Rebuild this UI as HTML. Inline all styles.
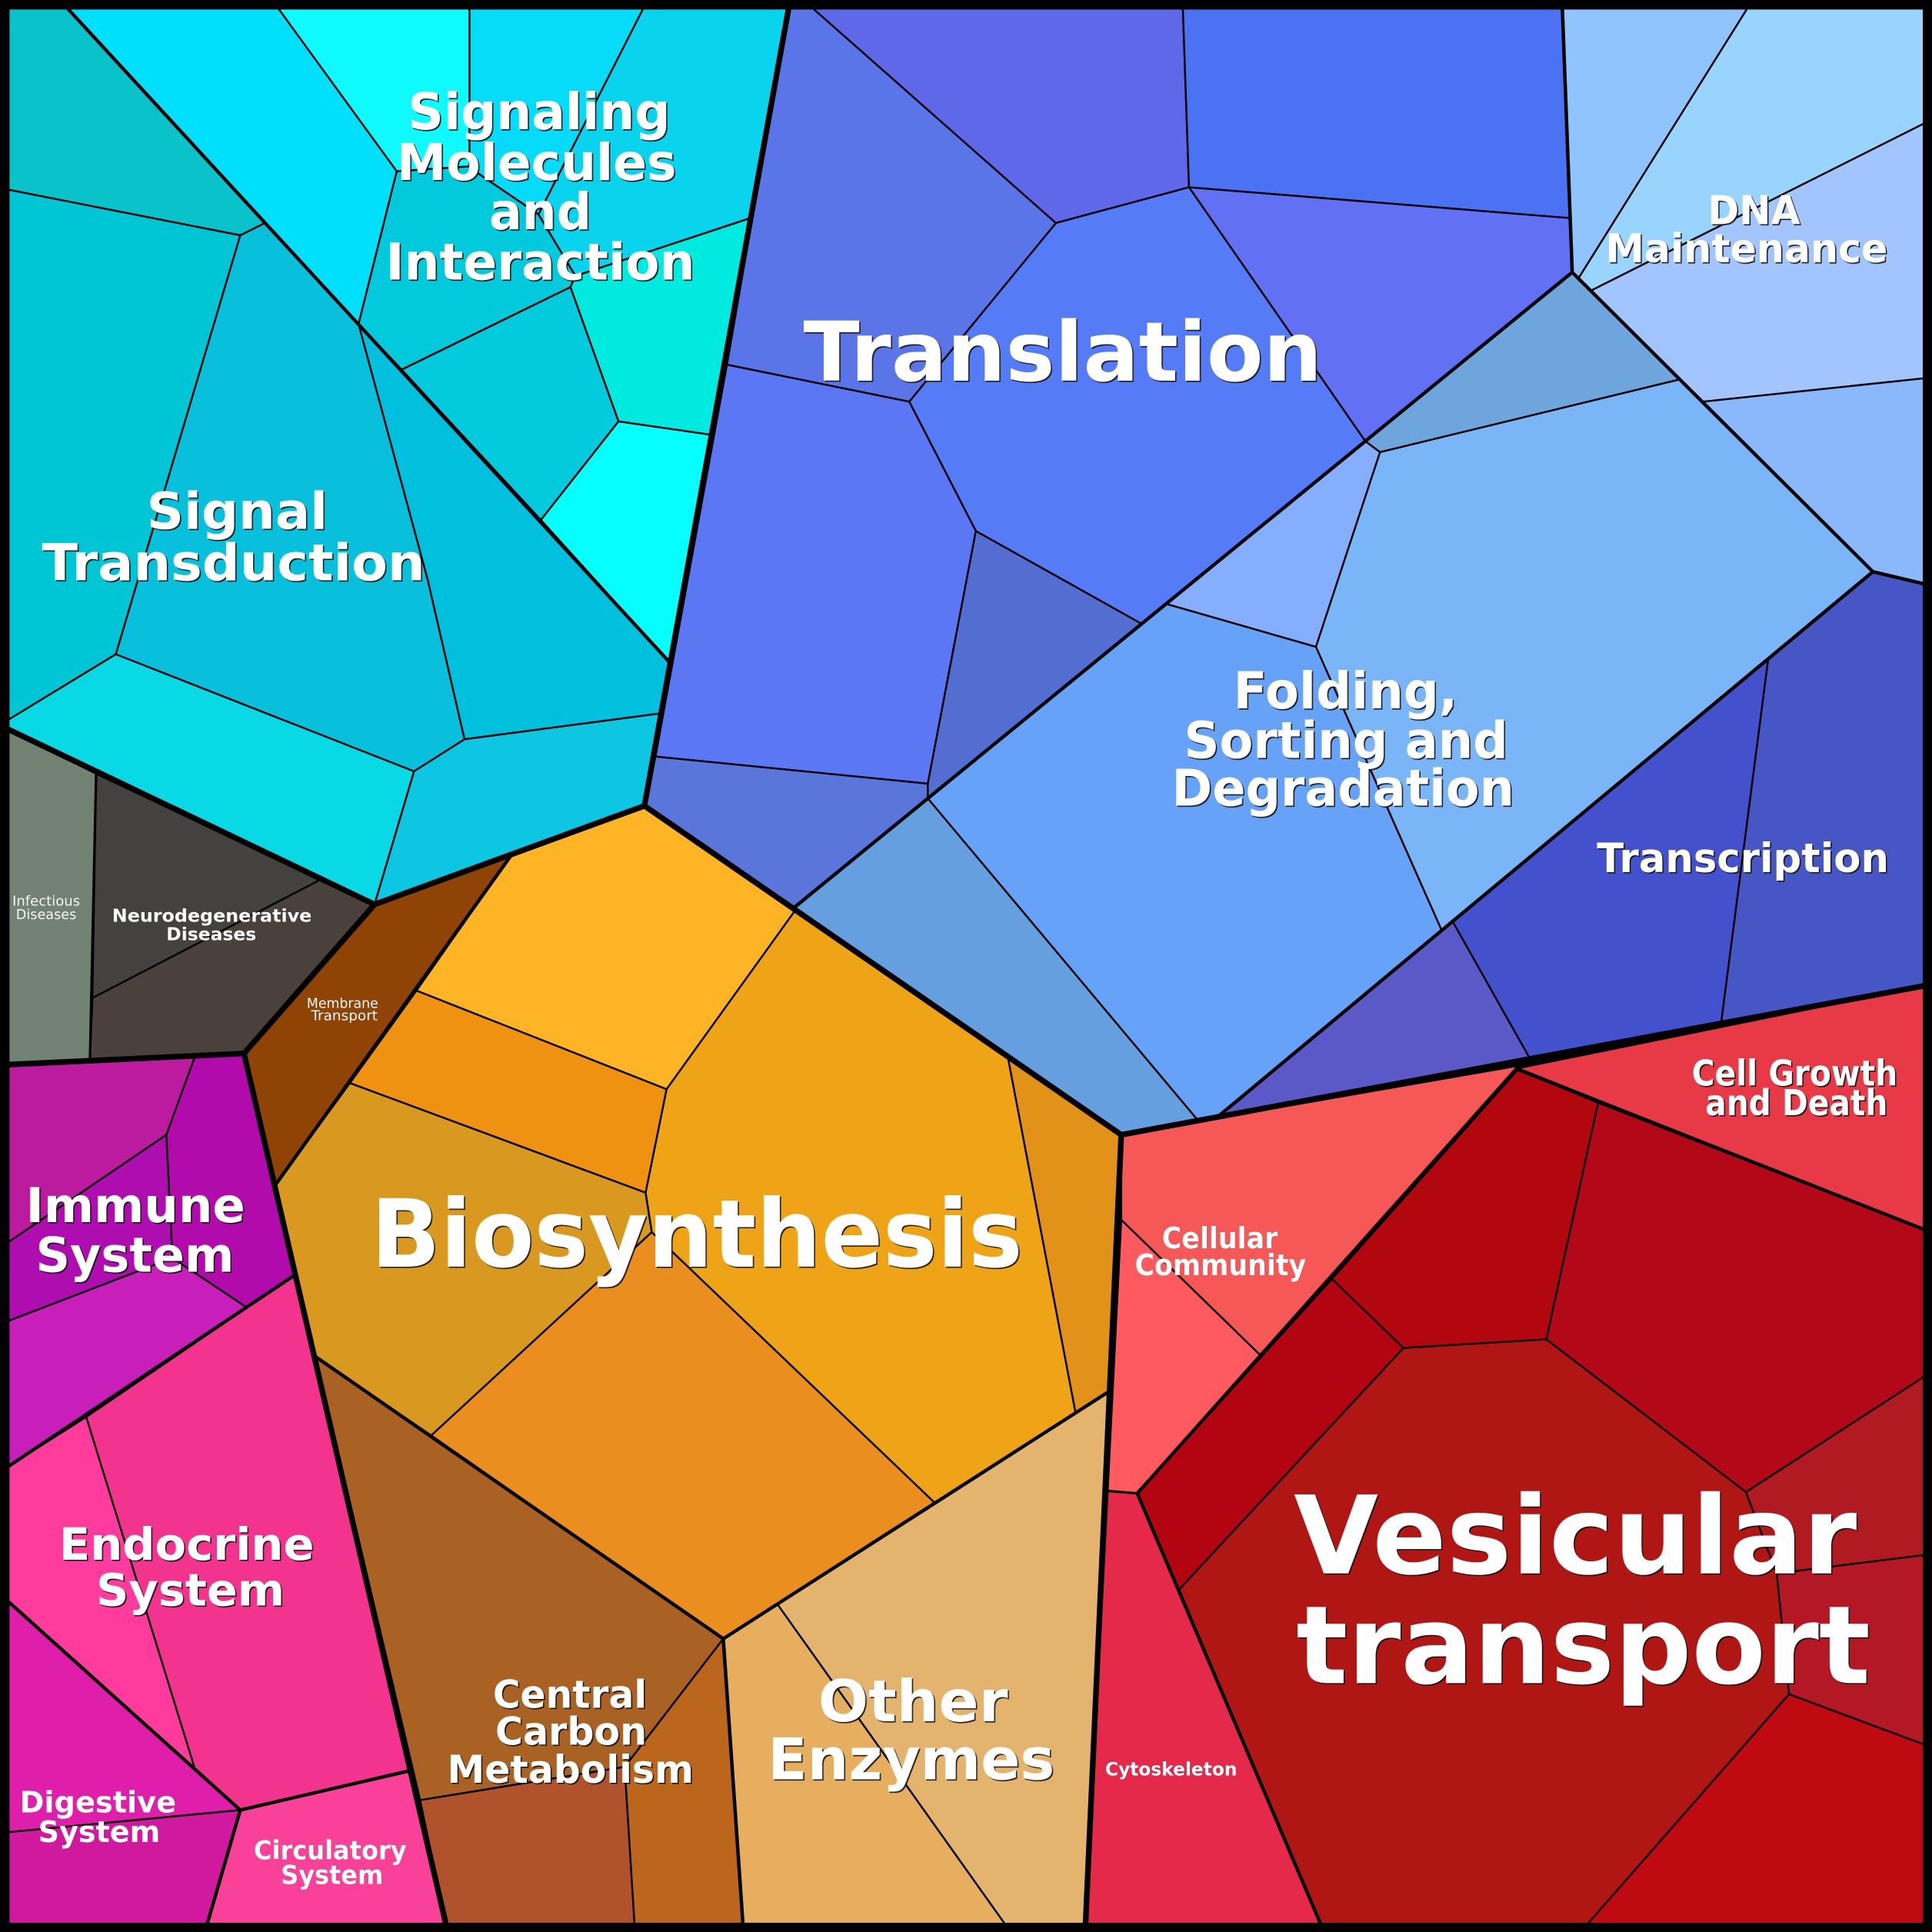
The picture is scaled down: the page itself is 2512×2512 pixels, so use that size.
<!DOCTYPE html>
<html><head><meta charset="utf-8"><style>
html,body{margin:0;padding:0;background:#000}
svg{display:block}
polygon{stroke:#000;stroke-width:1.5;stroke-linejoin:round}
.g{fill:none;stroke:#000;stroke-width:2.8;stroke-linejoin:round;stroke-linecap:round}
.s{fill:none;stroke:#000;stroke-width:4.6;stroke-linejoin:round;stroke-linecap:round}
text{font-family:"DejaVu Sans","Liberation Sans",sans-serif;font-weight:bold;fill:#fff}
text.n{font-weight:normal}
.big{filter:drop-shadow(1.1px 1.1px 0 rgba(20,20,20,.9))}
.small{filter:drop-shadow(.7px .7px 0 rgba(20,20,20,.9))}
</style></head><body>
<svg xmlns="http://www.w3.org/2000/svg" width="2512" height="2512" viewBox="0 0 1568 1568">
<rect width="1568" height="1568" fill="#000"/>
<g>
<!-- Signal Transduction -->
<polygon fill="#0ac3ca" points="7,7 55,7 215,181 195,191 7,154"/>
<polygon fill="#00c5d4" points="7,154 195,191 94,531 7,584"/>
<polygon fill="#08c0db" points="195,191 215,181 291,263 347,470 377,600 336,626 94,531"/>
<polygon fill="#00c0de" points="291,263 543,537 536,579 377,600 347,470"/>
<polygon fill="#09d9e4" points="7,584 94,531 336,626 304,734 7,592"/>
<polygon fill="#0cc6e2" points="336,626 377,600 536,579 523,654 304,734"/>
<!-- Signaling -->
<polygon fill="#00e0fc" points="55,7 226,7 322,139 291,263"/>
<polygon fill="#0ffaff" points="226,7 381,7 381,135 322,139"/>
<polygon fill="#06dbf9" points="381,7 522,7 437,174 387,140 381,135"/>
<polygon fill="#0ad3ed" points="522,7 640,7 609,177 467,224 437,174"/>
<polygon fill="#03c9dc" points="322,139 381,135 387,140 437,174 467,224 463,233 326,300 291,263"/>
<polygon fill="#03cbdd" points="326,300 463,233 502,342 439,422"/>
<polygon fill="#00eae0" points="467,224 609,177 578,353 502,342 463,233"/>
<polygon fill="#05ffff" points="502,342 578,353 543,537 439,422"/>
<!-- Translation -->
<polygon fill="#5a75e8" points="640,7 660,7 857,181 738,326 590,296"/>
<polygon fill="#6068ea" points="660,7 960,7 965,152 857,181"/>
<polygon fill="#4a72f2" points="960,7 1268,7 1274,177 965,152"/>
<polygon fill="#6271f3" points="965,152 1274,177 1276,221 1108,358"/>
<polygon fill="#557bf6" points="857,181 965,152 1108,358 926,506 792,431 738,326"/>
<polygon fill="#5b77f3" points="590,296 738,326 792,431 753,636 532,614"/>
<polygon fill="#536dd0" points="792,431 926,506 753,648 753,636"/>
<polygon fill="#5a76da" points="532,614 753,636 753,648 644,737 523,654"/>
<!-- Folding -->
<polygon fill="#6fa5dd" points="1276,221 1363,308 1120,367 1108,358"/>
<polygon fill="#85aeff" points="1120,367 1068,525 946,490 1108,358"/>
<polygon fill="#7ab5f7" points="1120,367 1363,308 1520,464 1170,755 1068,525"/>
<polygon fill="#65a2f8" points="946,490 1068,525 1170,755 990,905 972,909 753,648"/>
<polygon fill="#659fe0" points="753,648 972,909 910,921 644,737"/>
<!-- DNA -->
<polygon fill="#8fc4ff" points="1268,7 1418,7 1281,226 1276,221"/>
<polygon fill="#98d4ff" points="1418,7 1562,7 1562,100 1291,236 1281,226"/>
<polygon fill="#a2c5ff" points="1291,236 1562,100 1562,307 1382,326"/>
<polygon fill="#8ab8fb" points="1382,326 1562,307 1562,474 1520,464"/>
<!-- Transcription -->
<polygon fill="#4656c4" points="1435,535 1520,464 1562,474 1562,800 1397,829"/>
<polygon fill="#4451cd" points="1435,535 1397,829 1241,858 1179,748"/>
<polygon fill="#5b59c8" points="1179,748 1241,858 990,905"/>
<!-- Red -->
<polygon fill="#e73a46" points="1232,867 1562,800 1562,998"/>
<polygon fill="#f65757" points="910,921 1232,865 1081,1038 1023,1100 910,990"/>
<polygon fill="#ff5a5f" points="910,990 1023,1100 923,1212 899,1210"/>
<polygon fill="#e5294a" points="899,1210 923,1212 1072,1562 881,1562"/>
<polygon fill="#b30710" points="1232,868 1297,895 1255,1087 1139,1094 1081,1038"/>
<polygon fill="#b30818" points="1297,895 1562,998 1562,1117 1417,1211 1255,1087"/>
<polygon fill="#b30411" points="1081,1038 1139,1094 957,1290 923,1212"/>
<polygon fill="#b01613" points="1139,1094 1255,1087 1417,1211 1442,1277 1452,1375 1288,1562 1072,1562 957,1290"/>
<polygon fill="#b21a22" points="1417,1211 1562,1117 1562,1262 1442,1277"/>
<polygon fill="#b41825" points="1442,1277 1562,1262 1562,1416 1452,1375"/>
<polygon fill="#c00a12" points="1452,1375 1562,1416 1562,1562 1288,1562"/>
<!-- Biosynthesis -->
<polygon fill="#ffb425" points="415,694 523,654 646,738 541,884 338,804"/>
<polygon fill="#ef9212" points="338,804 541,884 524,968 284,879"/>
<polygon fill="#d99820" points="284,879 524,968 529,1000 350,1165 256,1101 224,961"/>
<polygon fill="#ea8e1f" points="529,1000 759,1220 587,1330 350,1165"/>
<polygon fill="#efa316" points="646,738 818,858 873,1147 759,1220 529,1000 524,968 541,884"/>
<polygon fill="#e29119" points="818,858 910,921 899,1130 873,1147"/>
<!-- Membrane / Neuro / Infectious -->
<polygon fill="#8f4304" points="304,734 415,694 224,961 198,855"/>
<polygon fill="#434240" points="78,628 260,714 75,810"/>
<polygon fill="#4a403c" points="260,714 304,734 198,855 73,860 75,810"/>
<polygon fill="#718172" points="7,592 78,628 73,860 7,864"/>
<!-- Immune -->
<polygon fill="#bc1ba0" points="7,864 158,858 135,921 7,1008"/>
<polygon fill="#ae0db0" points="135,921 140,1021 7,1072 7,1008"/>
<polygon fill="#b10cab" points="135,921 158,858 198,855 239,1035 200,1061 140,1021"/>
<polygon fill="#c81fbb" points="7,1072 140,1021 200,1061 7,1190"/>
<!-- Endocrine etc. -->
<polygon fill="#ff3b9e" points="7,1190 70,1150 158,1435 195,1469 7,1300"/>
<polygon fill="#f2348f" points="70,1150 239,1035 333,1437 195,1469 158,1435"/>
<polygon fill="#e01eac" points="7,1300 195,1469 7,1487"/>
<polygon fill="#d1199f" points="7,1487 195,1469 168,1562 7,1562"/>
<polygon fill="#fa4199" points="195,1469 333,1437 362,1562 168,1562"/>
<!-- Central Carbon -->
<polygon fill="#a96124" points="256,1101 587,1330 507,1434 341,1461"/>
<polygon fill="#b0522c" points="341,1461 507,1434 515,1562 362,1562"/>
<polygon fill="#bb651d" points="587,1330 603,1562 515,1562 507,1434"/>
<!-- Other Enzymes -->
<polygon fill="#e6ae5e" points="587,1330 631,1302 816,1562 603,1562"/>
<polygon fill="#e4b46f" points="631,1302 899,1130 881,1562 816,1562"/>
</g>
<!-- group borders -->
<path class="g" d="M55,7 L543,537"/>
<path class="g" d="M1268,7 L1276,221 L644,737"/>
<path class="g" d="M1276,221 L1520,464 L990,905"/>
<path class="g" d="M1520,464 L1562,474"/>
<path class="g" style="stroke-width:2" d="M78,628 L73,860"/>
<path class="g" d="M415,694 L224,961"/>
<path class="g" d="M899,1130 L587,1330 L256,1101"/>
<path class="g" d="M587,1330 L603,1562"/>
<path class="g" d="M239,1035 L7,1190"/>
<path class="g" d="M7,1300 L195,1469 L333,1437"/>
<path class="g" d="M195,1469 L168,1562"/>
<path class="g" d="M1232,866 L923,1212 L1072,1562"/>
<path class="g" d="M1232,868 L1562,998"/>
<path class="g" style="stroke-width:2" d="M899,1210 L923,1212"/>
<!-- super borders -->
<path class="s" d="M640,7 L523,654 L910,921 L881,1562"/>
<path class="s" d="M7,592 L304,734 L523,654"/>
<path class="s" d="M304,734 L198,855 L7,864"/>
<path class="s" d="M198,855 L362,1562"/>
<path class="s" d="M910,921 L1562,800"/>
<rect x="3.75" y="3.75" width="1560.5" height="1560.5" fill="none" stroke="#000" stroke-width="7.5"/>
<!-- labels -->
<g class="big">
<text x="652" y="309" font-size="67" textLength="421" lengthAdjust="spacingAndGlyphs">Translation</text>
<text x="301" y="1028" font-size="76" textLength="529" lengthAdjust="spacingAndGlyphs">Biosynthesis</text>
<text x="1050" y="1277" font-size="88" textLength="457" lengthAdjust="spacingAndGlyphs">Vesicular</text>
<text x="1052" y="1366" font-size="88" textLength="466" lengthAdjust="spacingAndGlyphs">transport</text>
<text x="331" y="105" font-size="41" textLength="213" lengthAdjust="spacingAndGlyphs">Signaling</text>
<text x="322" y="146" font-size="41" textLength="227" lengthAdjust="spacingAndGlyphs">Molecules</text>
<text x="397" y="186" font-size="41" textLength="83" lengthAdjust="spacingAndGlyphs">and</text>
<text x="313" y="227" font-size="41" textLength="251" lengthAdjust="spacingAndGlyphs">Interaction</text>
<text x="119" y="429" font-size="41" textLength="147" lengthAdjust="spacingAndGlyphs">Signal</text>
<text x="34" y="471" font-size="41" textLength="311" lengthAdjust="spacingAndGlyphs">Transduction</text>
<text x="1386" y="182" font-size="32" textLength="75" lengthAdjust="spacingAndGlyphs">DNA</text>
<text x="1303" y="213" font-size="32" textLength="229" lengthAdjust="spacingAndGlyphs">Maintenance</text>
<text x="1001" y="575" font-size="41" textLength="182" lengthAdjust="spacingAndGlyphs">Folding,</text>
<text x="961" y="615" font-size="41" textLength="263" lengthAdjust="spacingAndGlyphs">Sorting and</text>
<text x="951" y="654" font-size="41" textLength="278" lengthAdjust="spacingAndGlyphs">Degradation</text>
<text x="1296" y="708" font-size="33" textLength="237" lengthAdjust="spacingAndGlyphs">Transcription</text>
<text x="1373" y="881" font-size="29" textLength="167" lengthAdjust="spacingAndGlyphs">Cell Growth</text>
<text x="1384" y="905" font-size="29" textLength="148" lengthAdjust="spacingAndGlyphs">and Death</text>
<text x="21" y="992" font-size="39" textLength="178" lengthAdjust="spacingAndGlyphs">Immune</text>
<text x="29" y="1032" font-size="39" textLength="161" lengthAdjust="spacingAndGlyphs">System</text>
<text x="48" y="1266" font-size="36" textLength="207" lengthAdjust="spacingAndGlyphs">Endocrine</text>
<text x="78" y="1303" font-size="36" textLength="153" lengthAdjust="spacingAndGlyphs">System</text>
<text x="400" y="1386" font-size="31" textLength="125" lengthAdjust="spacingAndGlyphs">Central</text>
<text x="402" y="1416" font-size="31" textLength="123" lengthAdjust="spacingAndGlyphs">Carbon</text>
<text x="363" y="1447" font-size="31" textLength="200" lengthAdjust="spacingAndGlyphs">Metabolism</text>
<text x="664" y="1397" font-size="47" textLength="154" lengthAdjust="spacingAndGlyphs">Other</text>
<text x="623" y="1444" font-size="47" textLength="233" lengthAdjust="spacingAndGlyphs">Enzymes</text>
</g>
<g class="small">
<text x="943" y="1013" font-size="24" textLength="94" lengthAdjust="spacingAndGlyphs">Cellular</text>
<text x="921" y="1035" font-size="24" textLength="139" lengthAdjust="spacingAndGlyphs">Community</text>
<text x="16" y="1471" font-size="24" textLength="127" lengthAdjust="spacingAndGlyphs">Digestive</text>
<text x="31" y="1495" font-size="24" textLength="99" lengthAdjust="spacingAndGlyphs">System</text>
<text x="206" y="1509" font-size="21" textLength="124" lengthAdjust="spacingAndGlyphs">Circulatory</text>
<text x="228" y="1529" font-size="21" textLength="83" lengthAdjust="spacingAndGlyphs">System</text>
<text x="897" y="1441" font-size="15" textLength="107" lengthAdjust="spacingAndGlyphs">Cytoskeleton</text>
<text x="91" y="748" font-size="14.5" textLength="162" lengthAdjust="spacingAndGlyphs">Neurodegenerative</text>
<text x="135" y="763" font-size="14.5" textLength="73" lengthAdjust="spacingAndGlyphs">Diseases</text>
<text class="n" x="249" y="818" font-size="11" textLength="58" lengthAdjust="spacingAndGlyphs">Membrane</text>
<text class="n" x="252.500" y="828" font-size="11" textLength="54" lengthAdjust="spacingAndGlyphs">Transport</text>
<text class="n" x="10" y="735" font-size="11" textLength="55" lengthAdjust="spacingAndGlyphs">Infectious</text>
<text class="n" x="13" y="746" font-size="11" textLength="49" lengthAdjust="spacingAndGlyphs">Diseases</text>
</g>
</svg>
</body></html>
